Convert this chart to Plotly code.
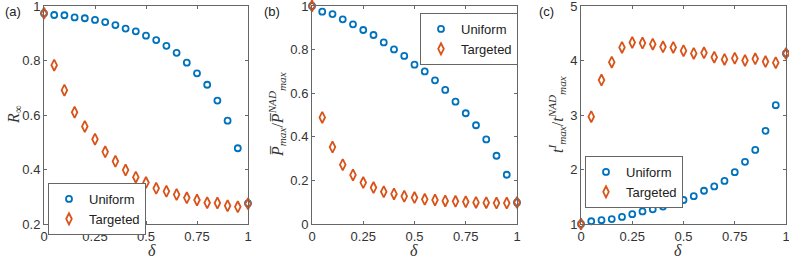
import plotly.graph_objects as go

delta = [0, 0.05, 0.1, 0.15, 0.2, 0.25, 0.3, 0.35, 0.4, 0.45, 0.5,
         0.55, 0.6, 0.65, 0.7, 0.75, 0.8, 0.85, 0.9, 0.95, 1.0]

r_uniform = [0.973, 0.967, 0.966, 0.958, 0.955, 0.949, 0.941, 0.930, 0.917, 0.907, 0.891,
             0.875, 0.854, 0.828, 0.792, 0.753, 0.711, 0.653, 0.579, 0.478, 0.276]
r_targeted = [0.973, 0.783, 0.691, 0.610, 0.558, 0.511, 0.465, 0.430, 0.398, 0.372, 0.352,
              0.331, 0.320, 0.308, 0.296, 0.288, 0.278, 0.277, 0.267, 0.263, 0.274]

p_uniform = [1.0, 0.974, 0.963, 0.939, 0.916, 0.890, 0.867, 0.833, 0.801, 0.771, 0.731,
             0.700, 0.659, 0.615, 0.561, 0.508, 0.453, 0.388, 0.313, 0.226, 0.099]
p_targeted = [1.0, 0.489, 0.353, 0.272, 0.225, 0.190, 0.167, 0.148, 0.138, 0.127, 0.121,
              0.113, 0.110, 0.106, 0.104, 0.102, 0.099, 0.098, 0.096, 0.096, 0.099]

t_uniform = [1.0, 1.05, 1.07, 1.09, 1.13, 1.18, 1.23, 1.27, 1.32, 1.37, 1.44,
             1.51, 1.61, 1.69, 1.79, 1.95, 2.14, 2.36, 2.71, 3.18, 4.13]
t_targeted = [1.0, 2.97, 3.64, 3.97, 4.24, 4.33, 4.32, 4.30, 4.25, 4.24, 4.18,
              4.13, 4.14, 4.06, 4.02, 4.04, 4.00, 4.03, 3.98, 3.96, 4.13]

x_ticks = [0, 0.25, 0.5, 0.75, 1]
x_ticklabels = ["0", "0.25", "0.5", "0.75", "1"]
ya_ticks = [0.2, 0.4, 0.6, 0.8, 1.0]
ya_ticklabels = ["0.2", "0.4", "0.6", "0.8", "1"]
yb_ticks = [0, 0.2, 0.4, 0.6, 0.8, 1.0]
yb_ticklabels = ["0", "0.2", "0.4", "0.6", "0.8", "1"]
yc_ticks = [1, 2, 3, 4, 5]
yc_ticklabels = ["1", "2", "3", "4", "5"]

BLUE = "#0072BD"
ORANGE = "#D95319"
W, H = 789, 262

panels = [
    dict(u=r_uniform, t=r_targeted, x0=44, x1=248, yr=[0.2, 1.0], yt=ya_ticks, ytl=ya_ticklabels),
    dict(u=p_uniform, t=p_targeted, x0=312, x1=517, yr=[0, 1.0], yt=yb_ticks, ytl=yb_ticklabels),
    dict(u=t_uniform, t=t_targeted, x0=581, x1=786, yr=[1, 5], yt=yc_ticks, ytl=yc_ticklabels),
]
ytop, ybot = 6, 224

fig = go.Figure()
legend_names = ["legend", "legend2", "legend3"]
for i, p in enumerate(panels):
    sfx = "" if i == 0 else str(i + 1)
    fig.add_trace(go.Scatter(
        x=delta, y=p["u"], mode="markers", name="Uniform",
        xaxis="x" + sfx, yaxis="y" + sfx, legend=legend_names[i], cliponaxis=False,
        marker=dict(symbol="circle-open", size=6, color=BLUE, line=dict(width=1.8, color=BLUE))))
    fig.add_trace(go.Scatter(
        x=delta, y=p["t"], mode="markers", name="Targeted",
        xaxis="x" + sfx, yaxis="y" + sfx, legend=legend_names[i], cliponaxis=False,
        marker=dict(symbol="diamond-tall-open", size=8, color=ORANGE, line=dict(width=1.8, color=ORANGE))))
    axcommon = dict(showline=True, linecolor="#666", linewidth=1, mirror="ticks",
                    ticks="inside", ticklen=3, tickcolor="#666", showgrid=False, zeroline=False,
                    ticklabeloverflow="allow", automargin=False,
                    tickfont=dict(family="Liberation Sans", size=13, color="#333"))
    fig.layout["xaxis" + sfx] = dict(
        domain=[p["x0"] / W, p["x1"] / W], range=[0, 1], anchor="y" + sfx,
        tickvals=x_ticks, ticktext=x_ticklabels, **axcommon)
    fig.layout["yaxis" + sfx] = dict(
        domain=[1 - ybot / H, 1 - ytop / H], range=p["yr"], anchor="x" + sfx,
        tickvals=p["yt"], ticktext=p["ytl"], **axcommon)
    # x-axis title
    fig.add_annotation(text="<i>δ</i>", x=(p["x0"] + p["x1"]) / 2 / W, y=1 - 250 / H,
                       xref="paper", yref="paper", showarrow=False, yanchor="middle",
                       font=dict(family="Liberation Serif", size=16, color="#333"))

legfont = dict(family="Liberation Sans", size=13, color="#222")
legcommon = dict(bgcolor="white", bordercolor="#666", borderwidth=1, font=legfont,
                 xanchor="left", yanchor="top", itemwidth=30, tracegroupgap=0)
fig.update_layout(
    legend=dict(x=48 / W, y=1 - 183 / H, **legcommon),
    legend2=dict(x=420 / W, y=1 - 13 / H, **legcommon),
    legend3=dict(x=585 / W, y=1 - 156 / H, **legcommon),
)

# y-axis titles
ytitles = [
    ("<i>R</i><sub>∞</sub>", 14),
    ("<i>P̅</i><sub><i>max</i></sub>/<i>P̅</i><sup><i>NAD</i></sup><sub><i>max</i></sub>", 277),
    ("<i>t</i><sup><i>I</i></sup><sub><i>max</i></sub>/<i>t</i><sup><i>NAD</i></sup><sub><i>max</i></sub>", 557),
]
for txt, xp in ytitles:
    fig.add_annotation(text=txt, x=xp / W, y=1 - 115 / H, xref="paper", yref="paper",
                       showarrow=False, textangle=-90, xanchor="center", yanchor="middle",
                       font=dict(family="Liberation Serif", size=16, color="#333"))

# panel labels
for lab, xp in [("(a)", 3), ("(b)", 262), ("(c)", 537)]:
    fig.add_annotation(text=lab, x=xp / W, y=1 - 2 / H, xref="paper", yref="paper",
                       xanchor="left", yanchor="top", showarrow=False,
                       font=dict(family="Liberation Sans", size=13, color="#222"))

fig.update_layout(width=W, height=H, margin=dict(l=0, r=0, t=0, b=0, autoexpand=False),
                  paper_bgcolor="white", plot_bgcolor="white", showlegend=True)
fig.write_html("out.html", config={"displayModeBar": False},
               post_script="document.body.style.margin='0px';")
